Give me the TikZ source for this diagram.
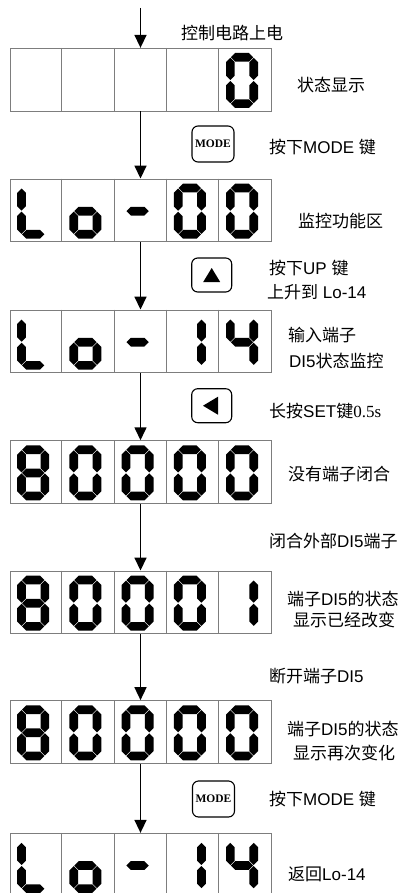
\documentclass[tikz,border=0pt]{standalone}
\usepackage{fontspec}
\setmainfont{Liberation Sans}
\newfontfamily\cjk{Noto Sans CJK SC}
\newfontfamily\tms{Liberation Serif}
\usetikzlibrary{arrows.meta,calc}
\definecolor{boxgray}{RGB}{125,125,125}
% seven-segment pieces (digit box 32 x 55, thickness 8.7)
\newcommand\SgA{\fill (4.85,4.35) -- (9.2,0) -- (22.8,0) -- (27.15,4.35) -- (22.8,8.7) -- (9.2,8.7) -- cycle;}
\newcommand\SgG{\fill (4.85,27.5) -- (9.2,23.15) -- (22.8,23.15) -- (27.15,27.5) -- (22.8,31.85) -- (9.2,31.85) -- cycle;}
\newcommand\SgD{\fill (4.85,50.65) -- (9.2,46.3) -- (22.8,46.3) -- (27.15,50.65) -- (22.8,55) -- (9.2,55) -- cycle;}
\newcommand\SgF{\fill (4.35,4.85) -- (8.7,9.2) -- (8.7,22.65) -- (4.35,27) -- (0,22.65) -- (0,9.2) -- cycle;}
\newcommand\SgB{\fill (27.65,4.85) -- (32,9.2) -- (32,22.65) -- (27.65,27) -- (23.3,22.65) -- (23.3,9.2) -- cycle;}
\newcommand\SgE{\fill (4.35,28) -- (8.7,32.35) -- (8.7,45.8) -- (4.35,50.15) -- (0,45.8) -- (0,32.35) -- cycle;}
\newcommand\SgC{\fill (27.65,28) -- (32,32.35) -- (32,45.8) -- (27.65,50.15) -- (23.3,45.8) -- (23.3,32.35) -- cycle;}
\newcommand\DZero{\SgA\SgB\SgC\SgD\SgE\SgF}
\newcommand\DEight{\SgA\SgB\SgC\SgD\SgE\SgF\SgG}
\newcommand\DOne{\SgB\SgC}
\newcommand\DFour{\SgB\SgC\SgF\SgG}
\newcommand\DL{\SgD\SgE\SgF}
\newcommand\Do{\SgC\SgD\SgE\SgG}
\newcommand\DMinus{\SgG}
\newcommand\Dig[3]{\begin{scope}[shift={({17.2+52.2*(#2-1)},{#1+4.7})}]#3\end{scope}}
\begin{document}
\begin{tikzpicture}[x=1pt,y=-1pt,
  rowbox/.style={draw=boxgray, line width=0.9pt, minimum width=261pt, minimum height=62.7pt, inner sep=0pt},
  cellline/.style={draw=boxgray, line width=0.9pt},
  flow/.style={line width=1.6pt, -{Triangle[width=12pt,length=13pt]}},
  btn/.style={draw, line width=1.1pt, rounded corners=6pt, minimum width=40pt, minimum height=34pt, inner sep=0pt},
  modetxt/.style={font=\tms\bfseries\fontsize{11.5pt}{13pt}\selectfont},
  lbl/.style={anchor=west, inner sep=0pt, font=\fontsize{17pt}{20pt}\selectfont}]
\useasboundingbox (0,0) rectangle (406,893);
\clip (0,0) rectangle (406,893);
% rows
\node[rowbox] (r1) at (140.5,79.65) {};
\node[rowbox] (r2) at (140.5,210.35) {};
\node[rowbox] (r3) at (140.5,341.35) {};
\node[rowbox] (r4) at (140.5,472.05) {};
\node[rowbox] (r5) at (140.5,602.35) {};
\node[rowbox] (r6) at (140.5,731.95) {};
\node[rowbox] (r7) at (140.5,864.65) {};
\foreach \r in {r1,r2,r3,r4,r5,r6,r7}
  \foreach \i in {1,...,4}
    \draw[cellline] ($(\r.north west)+(52.2*\i,0)$) -- ($(\r.south west)+(52.2*\i,0)$);
% digits
\Dig{48.3}{5}{\DZero}
\Dig{179}{1}{\DL}\Dig{179}{2}{\Do}\Dig{179}{3}{\DMinus}\Dig{179}{4}{\DZero}\Dig{179}{5}{\DZero}
\Dig{310}{1}{\DL}\Dig{310}{2}{\Do}\Dig{310}{3}{\DMinus}\Dig{310}{4}{\DOne}\Dig{310}{5}{\DFour}
\Dig{440.7}{1}{\DEight}\Dig{440.7}{2}{\DZero}\Dig{440.7}{3}{\DZero}\Dig{440.7}{4}{\DZero}\Dig{440.7}{5}{\DZero}
\Dig{571}{1}{\DEight}\Dig{571}{2}{\DZero}\Dig{571}{3}{\DZero}\Dig{571}{4}{\DZero}\Dig{571}{5}{\DOne}
\Dig{700.6}{1}{\DEight}\Dig{700.6}{2}{\DZero}\Dig{700.6}{3}{\DZero}\Dig{700.6}{4}{\DZero}\Dig{700.6}{5}{\DZero}
\Dig{833.3}{1}{\DL}\Dig{833.3}{2}{\Do}\Dig{833.3}{3}{\DMinus}\Dig{833.3}{4}{\DOne}\Dig{833.3}{5}{\DFour}
% arrows
\coordinate (s0) at (140.5,8);
\draw[flow] (s0) -- (r1.north);
\draw[flow] (r1.south) -- (r2.north);
\draw[flow] (r2.south) -- (r3.north);
\draw[flow] (r3.south) -- (r4.north);
\draw[flow] (r4.south) -- (r5.north);
\draw[flow] (r5.south) -- (r6.north);
\draw[flow] (r6.south) -- (r7.north);
% buttons
\node[btn, minimum width=42pt, minimum height=36pt, modetxt] (m1) at (213,144) {MODE};
\node[btn] (up) at (211.7,275) {};
\fill ($(up)+(0,-7)$) -- ($(up)+(-8.5,7)$) -- ($(up)+(8.5,7)$) -- cycle;
\node[btn] (lf) at (211.7,405.7) {};
\fill ($(lf)+(-8.7,0)$) -- ($(lf)+(6.3,9)$) -- ($(lf)+(6.3,-9)$) -- cycle;
\node[btn, minimum width=42pt, minimum height=36pt, modetxt] (m2) at (213.5,799) {MODE};
% labels
\node[lbl] (t0) at (181,33) {\cjk 控制电路上电};
\node[lbl] (t1) at (297,85) {\cjk 状态显示};
\node[lbl] (t2) at (269,147) {{\cjk 按下}MODE {\cjk 键}};
\node[lbl] (t3) at (298,221) {\cjk 监控功能区};
\node[lbl] (t4a) at (269,268.5) {{\cjk 按下}UP {\cjk 键}};
\node[lbl] (t4b) at (267,292) {{\cjk 上升到} Lo-14};
\node[lbl] (t5a) at (288,335) {\cjk 输入端子};
\node[lbl] (t5b) at (289,361) {DI5{\cjk 状态监控}};
\node[lbl] (t6) at (269,411) {{\cjk 长按}SET{\cjk 键}{\tms 0.5s}};
\node[lbl] (t7) at (288,474) {\cjk 没有端子闭合};
\node[lbl] (t8) at (269,541) {{\cjk 闭合外部}DI5{\cjk 端子}};
\node[lbl] (t9a) at (287,599.5) {{\cjk 端子}DI5{\cjk 的状态}};
\node[lbl] (t9b) at (293,619.5) {\cjk 显示已经改变};
\node[lbl] (t10) at (269,676) {{\cjk 断开端子}DI5};
\node[lbl] (t11a) at (287,729) {{\cjk 端子}DI5{\cjk 的状态}};
\node[lbl] (t11b) at (293,753) {\cjk 显示再次变化};
\node[lbl] (t12) at (269,799.5) {{\cjk 按下}MODE {\cjk 键}};
\node[lbl] (t13) at (288,874) {{\cjk 返回}Lo-14};
\end{tikzpicture}
\end{document}
